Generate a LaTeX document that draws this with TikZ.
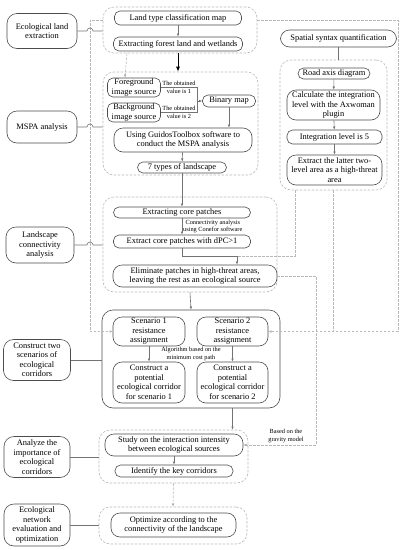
\documentclass[tikz,border=0pt]{standalone}
\usepackage{fontspec}
\setmainfont{Liberation Serif}
\usetikzlibrary{arrows.meta}

\tikzset{
  sz/.style 2 args={minimum width=#1pt, minimum height=#2pt},
  proc/.style={draw=black!70, line width=0.6pt, rounded corners=5.5pt, align=center,
    inner sep=0.5pt, fill=white, font=\fontsize{8.4}{9.5}\selectfont},
  tall/.style={proc, rounded corners=9pt},
  side/.style={proc, rounded corners=10pt},
  grp/.style={draw=black!28, dash pattern=on 2.5pt off 1.5pt, line width=0.6pt,
    rounded corners=11pt, inner sep=0pt},
  note/.style={align=center, inner sep=0pt, font=\fontsize{6.3}{7.4}\selectfont},
  line/.style={draw=black!55, line width=0.6pt},
  arr/.style={line, -{Latex[length=3.2pt,width=2.6pt]}},
  dline/.style={draw=black!28, dash pattern=on 2.5pt off 1.5pt, line width=0.6pt},
  darr/.style={dline, -{Latex[length=3.2pt,width=2.6pt,fill=black]}},
  bigarr/.style={draw=black, line width=0.9pt, -{Latex[length=5pt,width=4pt]}}
}

\begin{document}
\begin{tikzpicture}[x=1pt, y=-1pt]
  \useasboundingbox (0,0) rectangle (406,550);

  % groups
  \node[grp, sz={154}{46}]  (gA) at (180,30) {};
  \node[grp, sz={155}{103}] (gB) at (180.5,123.5) {};
  \node[grp, sz={174}{95}]  (gC) at (190,244.5) {};
  \node[proc, sz={178}{98}, rounded corners=11pt, fill=none] (gD) at (191,359) {};
  \node[grp, sz={149}{53}]  (gE) at (173.5,456.5) {};
  \node[grp, sz={148}{37}]  (gF) at (173,525.5) {};
  \node[grp, sz={107}{130}] (gS) at (333.5,125) {};

  % left column
  \node[side, sz={70}{35}] (s1) at (42,31) {Ecological land\\extraction};
  \node[side, sz={70}{32}] (s2) at (42,127) {MSPA analysis};
  \node[side, sz={68}{36}] (s3) at (40,245) {Landscape\\connectivity\\analysis};
  \node[side, sz={67}{41}] (s4) at (37,360) {Construct two\\scenarios of\\ecological\\corridors};
  \node[side, sz={66}{41}] (s5) at (37,457) {Analyze the\\importance of\\ecological\\corridors};
  \node[side, sz={66}{42}] (s6) at (37,525) {Ecological\\network\\evaluation and\\optimization};

  % land extraction
  \node[proc, sz={127}{14}] (a1) at (178,18) {Land type classification map};
  \node[proc, sz={129}{14}] (a2) at (178,44) {Extracting forest land and wetlands};

  % MSPA
  \node[proc, sz={53}{19}] (b1) at (134,87.5) {Foreground\\image source};
  \node[proc, sz={53}{19}] (b2) at (134,112.5) {Background\\image source};
  \node[proc, sz={53}{12}] (b3) at (229,101) {Binary map};
  \node[tall, sz={138}{24}] (b4) at (183,140) {Using GuidosToolbox software to\\conduct the MSPA analysis};
  \node[proc, sz={89}{11}] (b5) at (182,167.5) {7 types of landscape};
  \coordinate (bj) at (197,101);

  % connectivity
  \node[proc, sz={137}{11}] (c1) at (182,212.5) {Extracting core patches};
  \node[proc, sz={137}{13}] (c2) at (182,241.5) {Extract core patches with dPC>1};
  \node[tall, sz={164}{22}] (c3) at (195,276) {Eliminate patches in high-threat areas,\\leaving the rest as an ecological source};
  \coordinate (jn) at (237,256);

  % scenarios
  \node[tall, sz={72}{29}] (d1) at (149,331.5) {Scenario 1\\resistance\\assignment};
  \node[tall, sz={71}{29}] (d2) at (232.5,331.5) {Scenario 2\\resistance\\assignment};
  \node[tall, sz={72}{41}] (d3) at (149,382.5) {Construct a\\potential\\ecological corridor\\for scenario 1};
  \node[tall, sz={71}{41}] (d4) at (232.5,382.5) {Construct a\\potential\\ecological corridor\\for scenario 2};

  % importance and optimization
  \node[tall, sz={138}{22}] (e1) at (174,445) {Study on the interaction intensity\\between ecological sources};
  \node[proc, sz={118}{12}] (e2) at (174,471) {Identify the key corridors};
  \node[tall, sz={125}{24}] (f1) at (173.5,525) {Optimize according to the\\connectivity of the landscape};

  % spatial syntax
  \node[tall, sz={116}{17}] (r0) at (338.5,38.5) {Spatial syntax quantification};
  \node[proc, sz={72}{11}] (r1) at (334,73.5) {Road axis diagram};
  \node[tall, sz={93}{30}] (r2) at (333.5,105) {Calculate the integration\\level with the Axwoman\\plugin};
  \node[proc, sz={95}{14}] (r3) at (334.5,137) {Integration level is 5};
  \node[tall, sz={95}{30}] (r4) at (334.5,170) {Extract the latter two-\\level area as a high-threat\\area};

  \coordinate (lt) at (90,20);
  \coordinate (rt) at (398,20);
  \coordinate (gx) at (316,276);

  % dashed routes
  \draw[darr] ([yshift=10pt]gA.west) -- (lt) |- (d1.west);
  \draw[darr] ([yshift=10pt]gA.east) -- (rt) |- (d2.east);
  \draw[dline] (gS.south) -- (gS.south |- d2.east);
  \draw[dline] ([xshift=-38.5pt]gS.south) |- (jn);
  \draw[darr] ([xshift=-53pt]gA.south) -- ([xshift=-9pt]b1.north);
  \draw[darr] (c3.east) -- (gx) |- (e1.east);
  \node[note] (gm) at (286,436) {Based on the\\gravity model};
  \draw[darr] (gE.south) -- (gF.north);

  % side links
  \draw[line] (s1.east) -- ([xshift=-3pt]lt |- s1.east) arc[start angle=180, end angle=0, radius=3pt] -- (s1.east -| gA.west);
  \draw[line] (s2.east) -- ([xshift=-3pt]lt |- s2.east) arc[start angle=180, end angle=0, radius=3pt] -- (s2.east -| gB.west);
  \draw[line] (s3.east) -- ([xshift=-3pt]lt |- s3.east) arc[start angle=180, end angle=0, radius=3pt] -- (s3.east -| gC.west);
  \draw[line] (s4.east) -- (s4.east -| gD.west);
  \draw[line] (s5.east) -- (s5.east -| gE.west);
  \draw[line] (s6.east) -- (s6.east -| gF.west);

  % flow
  \draw[arr] (a1) -- (a2);
  \draw[bigarr] (gA.south -| a2) -- (gB.north -| a2);
  \draw[line] (b1.east) -| (bj);
  \draw[line] (b2.east) -| (bj);
  \draw[arr] (bj) -- (b3.west);
  \node[note] (l1) at (179,87.5) {The obtained\\value is 1};
  \node[note] (l2) at (179,112.5) {The obtained\\value is 2};
  \draw[arr] (b3.south) -- (b3.south |- b4.north);
  \draw[arr] (b4) -- (b5);
  \draw[arr] (b5) -- (c1);
  \draw[arr] (c1) -- (c2);
  \node[note, anchor=west] (ca) at (183,226.5) {Connectivity analysis\\using Conefor software};
  \draw[arr] (c2.south) |- (jn) -- (jn |- c3.north);
  \draw[arr] (gC.south) -- (gD.north);
  \draw[arr] (d1) -- (d3);
  \draw[arr] (d2) -- (d4);
  \node[note] (mc) at (191,354) {Algorithm based on the\\minimum cost path};
  \draw[arr] (gD.south -| d4) -- (gE.north -| d4);
  \draw[arr] (e1) -- (e2);
  \draw[line] (r0.south) -- (r0.south |- gS.north);
  \draw[arr] (r1) -- (r2);
  \draw[arr] (r2) -- (r3);
  \draw[arr] (r3) -- (r4);
\end{tikzpicture}
\end{document}
